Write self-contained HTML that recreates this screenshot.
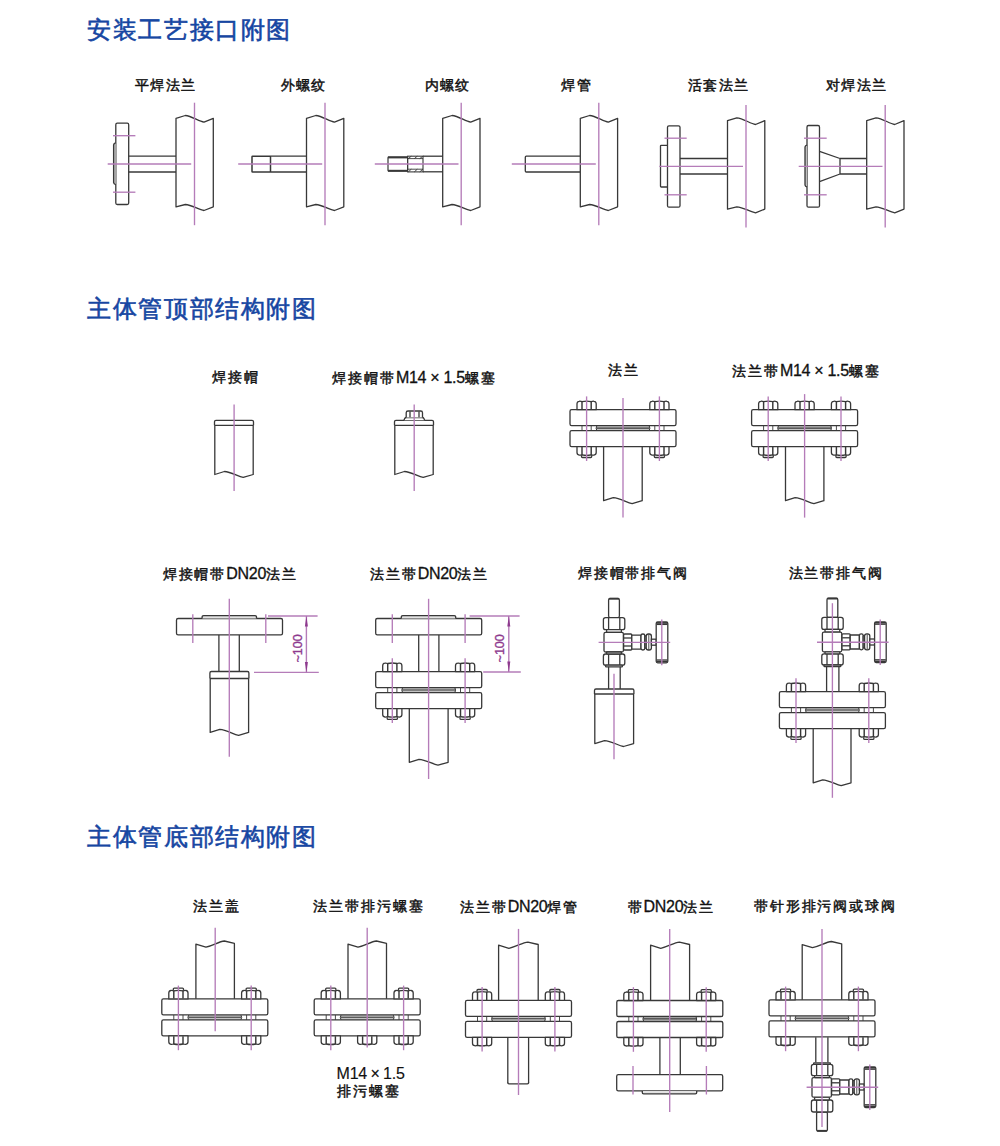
<!DOCTYPE html>
<html><head><meta charset="utf-8"><style>
html,body{margin:0;padding:0;background:#fff;width:1000px;height:1146px;overflow:hidden}
.t{position:absolute;font-family:"Liberation Sans",sans-serif;color:#1646a2;font-size:24px;letter-spacing:1.64px;font-weight:400;-webkit-text-stroke:0.6px #1646a2;white-space:nowrap;line-height:1}
.r{font-weight:400;font-size:16px;letter-spacing:-0.3px;-webkit-text-stroke:0.3px #111}
.s1{font-size:14px;letter-spacing:1.1px;padding-left:1.1px}
.sp{letter-spacing:1.9px;padding-left:1.9px}
.l{position:absolute;font-family:"Liberation Sans",sans-serif;color:#111;font-size:14px;font-weight:400;-webkit-text-stroke:0.45px #111;white-space:nowrap;line-height:1;transform:translateX(-50%)}
svg{position:absolute;left:0;top:0}
</style></head><body>
<div class="t" style="left:87px;top:17.5px">安装工艺接口附图</div>
<div class="t" style="left:87px;top:296.9px">主体管顶部结构附图</div>
<div class="t" style="left:87px;top:825px">主体管底部结构附图</div>
<div class="l s1" style="left:165px;top:78px">平焊法兰</div>
<div class="l s1" style="left:303px;top:78px">外螺纹</div>
<div class="l s1" style="left:447px;top:78px">内螺纹</div>
<div class="l s1" style="left:576px;top:78px">焊管</div>
<div class="l s1" style="left:718px;top:78px">活套法兰</div>
<div class="l s1" style="left:856px;top:78px">对焊法兰</div>
<div class="l sp" style="left:235px;top:370px">焊接帽</div>
<div class="l sp" style="left:413.5px;top:370px">焊接帽带<span class="r">M14 × 1.5</span>螺塞</div>
<div class="l sp" style="left:623px;top:362.5px">法兰</div>
<div class="l sp" style="left:805.5px;top:362.5px">法兰带<span class="r">M14 × 1.5</span>螺塞</div>
<div class="l sp" style="left:229.3px;top:566px">焊接帽带<span class="r">DN20</span>法兰</div>
<div class="l sp" style="left:428.6px;top:566px">法兰带<span class="r">DN20</span>法兰</div>
<div class="l sp" style="left:632.5px;top:566px">焊接帽带排气阀</div>
<div class="l sp" style="left:835.3px;top:566px">法兰带排气阀</div>
<div class="l sp" style="left:216px;top:898.5px">法兰盖</div>
<div class="l sp" style="left:368px;top:898.5px">法兰带排污螺塞</div>
<div class="l sp" style="left:518.7px;top:898.5px">法兰带<span class="r">DN20</span>焊管</div>
<div class="l sp" style="left:670.4px;top:898.5px">带<span class="r">DN20</span>法兰</div>
<div class="l sp" style="left:824.5px;top:898.5px">带针形排污阀或球阀</div>
<div class="l" style="left:336.5px;top:1066.3px;transform:none;font-weight:400"><span class="r" style="-webkit-text-stroke:0.15px #111;letter-spacing:-0.2px;word-spacing:-0.8px">M14 × 1.5</span></div>
<div class="l" style="left:337px;top:1083.5px;transform:none;letter-spacing:2.1px">排污螺塞</div>
<svg width="1000" height="1146" viewBox="0 0 1000 1146">
<path d="M176,118.3 L185.3,115.5 C191.5,116 198.5,121.1 204,122.2 L213.3,118.3 L213.3,206.8 L204,210.5 C198.5,209.4 191.5,204.8 185.3,204.5 L176,206.8 Z" fill="none" stroke="#383838" stroke-width="1.3" stroke-linejoin="round"/>
<line x1="194.5" y1="102.7" x2="194.5" y2="225.2" stroke="#b57cb9" stroke-width="1.35"/>
<rect x="115.8" y="123.2" width="12.9" height="81.3" rx="1.5" fill="none" stroke="#383838" stroke-width="1.3"/>
<path d="M115.8,142.7 L114.2,143.6 L113.6,145 L113.6,182.4 L114.2,183.8 L115.8,184.7" fill="#bdbdbd" stroke="#383838" stroke-width="1.3" stroke-linejoin="round"/>
<line x1="128.7" y1="156.2" x2="176" y2="156.2" stroke="#383838" stroke-width="1.3"/>
<line x1="128.7" y1="172" x2="176" y2="172" stroke="#383838" stroke-width="1.3"/>
<line x1="107.7" y1="164" x2="191.2" y2="164" stroke="#b57cb9" stroke-width="1.35"/>
<line x1="113" y1="135.7" x2="135.4" y2="135.7" stroke="#b57cb9" stroke-width="1.35"/>
<line x1="113" y1="192.2" x2="135.4" y2="192.2" stroke="#b57cb9" stroke-width="1.35"/>
<path d="M306.5,118.3 L315.8,115.5 C322,116 329,121.1 334.5,122.2 L343.8,118.3 L343.8,206.8 L334.5,210.5 C329,209.4 322,204.8 315.8,204.5 L306.5,206.8 Z" fill="none" stroke="#383838" stroke-width="1.3" stroke-linejoin="round"/>
<line x1="325" y1="102.7" x2="325" y2="225.2" stroke="#b57cb9" stroke-width="1.35"/>
<line x1="270.5" y1="156.2" x2="306.5" y2="156.2" stroke="#383838" stroke-width="1.3"/>
<line x1="270.5" y1="172" x2="306.5" y2="172" stroke="#383838" stroke-width="1.3"/>
<rect x="252" y="156.2" width="18.5" height="15.8" rx="0.6" fill="none" stroke="#383838" stroke-width="1.5"/>
<line x1="238.2" y1="164" x2="322.2" y2="164" stroke="#b57cb9" stroke-width="1.35"/>
<path d="M442.7,118.3 L452,115.5 C458.2,116 465.2,121.1 470.7,122.2 L480,118.3 L480,206.8 L470.7,210.5 C465.2,209.4 458.2,204.8 452,204.5 L442.7,206.8 Z" fill="none" stroke="#383838" stroke-width="1.3" stroke-linejoin="round"/>
<line x1="461.2" y1="102.7" x2="461.2" y2="225.2" stroke="#b57cb9" stroke-width="1.35"/>
<line x1="423" y1="156.2" x2="443" y2="156.2" stroke="#383838" stroke-width="1.3"/>
<line x1="423" y1="171.8" x2="443" y2="171.8" stroke="#383838" stroke-width="1.3"/>
<rect x="388" y="157.2" width="19.6" height="13.7" rx="0.5" fill="none" stroke="#383838" stroke-width="1.2"/>
<line x1="388" y1="157.4" x2="407.6" y2="157.4" stroke="#383838" stroke-width="2.0"/>
<line x1="388" y1="170.8" x2="407.6" y2="170.8" stroke="#383838" stroke-width="2.0"/>
<rect x="407.6" y="156.2" width="15.4" height="15.7" rx="0" fill="none" stroke="#383838" stroke-width="1.1"/>
<line x1="407.6" y1="158.6" x2="423" y2="158.6" stroke="#383838" stroke-width="0.9"/>
<line x1="407.6" y1="169.2" x2="423" y2="169.2" stroke="#383838" stroke-width="0.9"/>
<line x1="408.3" y1="158.6" x2="411.3" y2="156.2" stroke="#383838" stroke-width="0.9"/>
<line x1="408.3" y1="171.9" x2="411.3" y2="169.2" stroke="#383838" stroke-width="0.9"/>
<line x1="414.3" y1="158.6" x2="417.3" y2="156.2" stroke="#383838" stroke-width="0.9"/>
<line x1="414.3" y1="171.9" x2="417.3" y2="169.2" stroke="#383838" stroke-width="0.9"/>
<line x1="419.8" y1="158.6" x2="422.8" y2="156.2" stroke="#383838" stroke-width="0.9"/>
<line x1="419.8" y1="171.9" x2="422.8" y2="169.2" stroke="#383838" stroke-width="0.9"/>
<line x1="374.8" y1="164" x2="458.5" y2="164" stroke="#b57cb9" stroke-width="1.35"/>
<path d="M580.3,118.3 L589.6,115.5 C595.8,116 602.8,121.1 608.3,122.2 L617.6,118.3 L617.6,206.8 L608.3,210.5 C602.8,209.4 595.8,204.8 589.6,204.5 L580.3,206.8 Z" fill="none" stroke="#383838" stroke-width="1.3" stroke-linejoin="round"/>
<line x1="598.8" y1="102.7" x2="598.8" y2="225.2" stroke="#b57cb9" stroke-width="1.35"/>
<path d="M580,156.2 L526.3,156.2 Q525.3,156.2 525.3,157.2 L525.3,171 Q525.3,172 526.3,172 L580,172" fill="none" stroke="#383838" stroke-width="1.3" stroke-linejoin="round"/>
<line x1="511.8" y1="164" x2="595.8" y2="164" stroke="#b57cb9" stroke-width="1.35"/>
<path d="M727.5,120.6 L736.8,117.8 C743,118.3 750,123.4 755.5,124.5 L764.8,120.6 L764.8,209.1 L755.5,212.8 C750,211.7 743,207.1 736.8,206.8 L727.5,209.1 Z" fill="none" stroke="#383838" stroke-width="1.3" stroke-linejoin="round"/>
<line x1="746" y1="105" x2="746" y2="227.5" stroke="#b57cb9" stroke-width="1.35"/>
<rect x="667.5" y="125.8" width="12.5" height="81.4" rx="1.5" fill="none" stroke="#383838" stroke-width="1.3"/>
<path d="M667.5,145.3 L661.3,145.3 Q660.5,145.3 660.5,146.1 L660.5,186.2 Q660.5,187 661.3,187 L667.5,187" fill="none" stroke="#383838" stroke-width="1.3" stroke-linejoin="round"/>
<line x1="680" y1="158.5" x2="727.5" y2="158.5" stroke="#383838" stroke-width="1.3"/>
<line x1="680" y1="174" x2="727.5" y2="174" stroke="#383838" stroke-width="1.3"/>
<line x1="659.3" y1="166.3" x2="743" y2="166.3" stroke="#b57cb9" stroke-width="1.35"/>
<line x1="664.5" y1="138.2" x2="686.7" y2="138.2" stroke="#b57cb9" stroke-width="1.35"/>
<line x1="664.5" y1="194.8" x2="686.7" y2="194.8" stroke="#b57cb9" stroke-width="1.35"/>
<path d="M866.7,120.6 L876,117.8 C882.2,118.3 889.2,123.4 894.7,124.5 L904,120.6 L904,209.1 L894.7,212.8 C889.2,211.7 882.2,207.1 876,206.8 L866.7,209.1 Z" fill="none" stroke="#383838" stroke-width="1.3" stroke-linejoin="round"/>
<line x1="885.2" y1="105" x2="885.2" y2="227.5" stroke="#b57cb9" stroke-width="1.35"/>
<rect x="807" y="125.5" width="12.5" height="81.7" rx="1.5" fill="none" stroke="#383838" stroke-width="1.3"/>
<path d="M807,145 L805.6,145.8 L805,147 L805,185 L805.6,186.2 L807,187" fill="#bdbdbd" stroke="#383838" stroke-width="1.3" stroke-linejoin="round"/>
<path d="M819.5,151.3 L840,158.5 L866.8,158.5 M819.5,181.7 L840,174 L866.8,174 M840,158.5 L840,174" fill="none" stroke="#383838" stroke-width="1.3" stroke-linejoin="round"/>
<line x1="798.7" y1="166.3" x2="882.5" y2="166.3" stroke="#b57cb9" stroke-width="1.35"/>
<line x1="804" y1="138.2" x2="826.7" y2="138.2" stroke="#b57cb9" stroke-width="1.35"/>
<line x1="804" y1="194.8" x2="826.7" y2="194.8" stroke="#b57cb9" stroke-width="1.35"/>
<path d="M214.5,425.3 L214.5,421.8 Q214.5,420.3 216,420.3 L252,420.3 Q253.5,420.3 253.5,421.8 L253.5,425.3" fill="none" stroke="#383838" stroke-width="1.3" stroke-linejoin="round"/>
<line x1="214.5" y1="425.3" x2="253.5" y2="425.3" stroke="#383838" stroke-width="1.3"/>
<path d="M214.8,425.3 L214.8,474.5 L224.4,471.5 C230.93,471.9 237.84,476.3 243.22,477.4 L253.2,474.5 L253.2,425.3" fill="none" stroke="#383838" stroke-width="1.3" stroke-linejoin="round"/>
<line x1="234.1" y1="404.5" x2="234.1" y2="491" stroke="#b57cb9" stroke-width="1.35"/>
<path d="M394.5,425.3 L394.5,421.8 Q394.5,420.3 396,420.3 L432,420.3 Q433.5,420.3 433.5,421.8 L433.5,425.3" fill="none" stroke="#383838" stroke-width="1.3" stroke-linejoin="round"/>
<line x1="394.5" y1="425.3" x2="433.5" y2="425.3" stroke="#383838" stroke-width="1.3"/>
<path d="M394.8,425.3 L394.8,474.5 L404.4,471.5 C410.93,471.9 417.84,476.3 423.22,477.4 L433.2,474.5 L433.2,425.3" fill="none" stroke="#383838" stroke-width="1.3" stroke-linejoin="round"/>
<path d="M404,420.3 L404.6,418.6 Q405.2,417.5 406.4,417.5 L422.2,417.5 Q423.4,417.5 424,418.6 L424.6,420.3" fill="#fff" stroke="#383838" stroke-width="1.3" stroke-linejoin="round"/>
<path d="M406.2,417.5 L406.2,412.8 Q406.2,411 408,411 L420.7,411 Q422.5,411 422.5,412.8 L422.5,417.5" fill="#fff" stroke="#383838" stroke-width="1.3" stroke-linejoin="round"/>
<line x1="410" y1="411.4" x2="410" y2="417.2" stroke="#383838" stroke-width="1.3"/>
<line x1="419" y1="411.4" x2="419" y2="417.2" stroke="#383838" stroke-width="1.3"/>
<line x1="414.2" y1="404.5" x2="414.2" y2="491" stroke="#b57cb9" stroke-width="1.35"/>
<path d="M603.6,446.8 L603.6,500.7 L613.25,497.7 C619.81,498.1 626.76,502.5 632.16,503.6 L642.2,500.7 L642.2,446.8" fill="none" stroke="#383838" stroke-width="1.3" stroke-linejoin="round"/>
<rect x="596.2" y="425.7" width="53.6" height="5" fill="#c4c4c4"/>
<line x1="596.6" y1="428.1" x2="649.4" y2="428.1" stroke="#383838" stroke-width="1.1"/>
<path d="M596.8,426 Q595.4,428.2 596.8,430.4 M649.2,426 Q650.6,428.2 649.2,430.4" fill="none" stroke="#383838" stroke-width="1.0" stroke-linejoin="round"/>
<line x1="582" y1="425.7" x2="582" y2="430.7" stroke="#383838" stroke-width="0.9"/>
<line x1="591.2" y1="425.7" x2="591.2" y2="430.7" stroke="#383838" stroke-width="0.9"/>
<line x1="654.8" y1="425.7" x2="654.8" y2="430.7" stroke="#383838" stroke-width="0.9"/>
<line x1="664" y1="425.7" x2="664" y2="430.7" stroke="#383838" stroke-width="0.9"/>
<rect x="570" y="409.7" width="106" height="16" rx="1.6" fill="#fff" stroke="#383838" stroke-width="1.3"/>
<rect x="570" y="430.7" width="106" height="16" rx="1.6" fill="#fff" stroke="#383838" stroke-width="1.3"/>
<path d="M577,409.7 L577,403.8 Q577,401.6 579.2,401.3 Q580,401 582,401.6 Q586.6,400.6 591.2,401.6 Q593.2,401 594,401.3 Q596.2,401.6 596.2,403.8 L596.2,409.7 Z" fill="#fff" stroke="#383838" stroke-width="1.3" stroke-linejoin="round"/>
<line x1="582" y1="401.4" x2="582" y2="409.4" stroke="#383838" stroke-width="1.45"/>
<line x1="591.2" y1="401.4" x2="591.2" y2="409.4" stroke="#383838" stroke-width="1.45"/>
<path d="M577,446.7 L577,452.6 Q577,454.8 579.2,455.1 Q580,455.4 582,454.8 Q586.6,455.8 591.2,454.8 Q593.2,455.4 594,455.1 Q596.2,454.8 596.2,452.6 L596.2,446.7 Z" fill="#fff" stroke="#383838" stroke-width="1.3" stroke-linejoin="round"/>
<line x1="582" y1="447" x2="582" y2="455" stroke="#383838" stroke-width="1.45"/>
<line x1="591.2" y1="447" x2="591.2" y2="455" stroke="#383838" stroke-width="1.45"/>
<path d="M581.5,455.3 L581.5,456.5 Q581.5,457.5 582.5,457.5 L590.7,457.5 Q591.7,457.5 591.7,456.5 L591.7,455.3" fill="none" stroke="#383838" stroke-width="1.3" stroke-linejoin="round"/>
<path d="M649.8,409.7 L649.8,403.8 Q649.8,401.6 652,401.3 Q652.8,401 654.8,401.6 Q659.4,400.6 664,401.6 Q666,401 666.8,401.3 Q669,401.6 669,403.8 L669,409.7 Z" fill="#fff" stroke="#383838" stroke-width="1.3" stroke-linejoin="round"/>
<line x1="654.8" y1="401.4" x2="654.8" y2="409.4" stroke="#383838" stroke-width="1.45"/>
<line x1="664" y1="401.4" x2="664" y2="409.4" stroke="#383838" stroke-width="1.45"/>
<path d="M649.8,446.7 L649.8,452.6 Q649.8,454.8 652,455.1 Q652.8,455.4 654.8,454.8 Q659.4,455.8 664,454.8 Q666,455.4 666.8,455.1 Q669,454.8 669,452.6 L669,446.7 Z" fill="#fff" stroke="#383838" stroke-width="1.3" stroke-linejoin="round"/>
<line x1="654.8" y1="447" x2="654.8" y2="455" stroke="#383838" stroke-width="1.45"/>
<line x1="664" y1="447" x2="664" y2="455" stroke="#383838" stroke-width="1.45"/>
<path d="M654.3,455.3 L654.3,456.5 Q654.3,457.5 655.3,457.5 L663.5,457.5 Q664.5,457.5 664.5,456.5 L664.5,455.3" fill="none" stroke="#383838" stroke-width="1.3" stroke-linejoin="round"/>
<line x1="586.6" y1="396.4" x2="586.6" y2="461" stroke="#b57cb9" stroke-width="1.35"/>
<line x1="659.4" y1="396.4" x2="659.4" y2="461" stroke="#b57cb9" stroke-width="1.35"/>
<line x1="623" y1="398" x2="623" y2="517.6" stroke="#b57cb9" stroke-width="1.35"/>
<path d="M785.5,446.8 L785.5,500.7 L795.1,497.7 C801.63,498.1 808.54,502.5 813.92,503.6 L823.9,500.7 L823.9,446.8" fill="none" stroke="#383838" stroke-width="1.3" stroke-linejoin="round"/>
<rect x="777.8" y="425.7" width="53.6" height="5" fill="#c4c4c4"/>
<line x1="778.2" y1="428.1" x2="831" y2="428.1" stroke="#383838" stroke-width="1.1"/>
<path d="M778.4,426 Q777,428.2 778.4,430.4 M830.8,426 Q832.2,428.2 830.8,430.4" fill="none" stroke="#383838" stroke-width="1.0" stroke-linejoin="round"/>
<line x1="763.6" y1="425.7" x2="763.6" y2="430.7" stroke="#383838" stroke-width="0.9"/>
<line x1="772.8" y1="425.7" x2="772.8" y2="430.7" stroke="#383838" stroke-width="0.9"/>
<line x1="836.4" y1="425.7" x2="836.4" y2="430.7" stroke="#383838" stroke-width="0.9"/>
<line x1="845.6" y1="425.7" x2="845.6" y2="430.7" stroke="#383838" stroke-width="0.9"/>
<rect x="751.6" y="409.7" width="106" height="16" rx="1.6" fill="#fff" stroke="#383838" stroke-width="1.3"/>
<rect x="751.6" y="430.7" width="106" height="16" rx="1.6" fill="#fff" stroke="#383838" stroke-width="1.3"/>
<path d="M758.6,409.7 L758.6,403.8 Q758.6,401.6 760.8,401.3 Q761.6,401 763.6,401.6 Q768.2,400.6 772.8,401.6 Q774.8,401 775.6,401.3 Q777.8,401.6 777.8,403.8 L777.8,409.7 Z" fill="#fff" stroke="#383838" stroke-width="1.3" stroke-linejoin="round"/>
<line x1="763.6" y1="401.4" x2="763.6" y2="409.4" stroke="#383838" stroke-width="1.45"/>
<line x1="772.8" y1="401.4" x2="772.8" y2="409.4" stroke="#383838" stroke-width="1.45"/>
<path d="M758.6,446.7 L758.6,452.6 Q758.6,454.8 760.8,455.1 Q761.6,455.4 763.6,454.8 Q768.2,455.8 772.8,454.8 Q774.8,455.4 775.6,455.1 Q777.8,454.8 777.8,452.6 L777.8,446.7 Z" fill="#fff" stroke="#383838" stroke-width="1.3" stroke-linejoin="round"/>
<line x1="763.6" y1="447" x2="763.6" y2="455" stroke="#383838" stroke-width="1.45"/>
<line x1="772.8" y1="447" x2="772.8" y2="455" stroke="#383838" stroke-width="1.45"/>
<path d="M763.1,455.3 L763.1,456.5 Q763.1,457.5 764.1,457.5 L772.3,457.5 Q773.3,457.5 773.3,456.5 L773.3,455.3" fill="none" stroke="#383838" stroke-width="1.3" stroke-linejoin="round"/>
<path d="M831.4,409.7 L831.4,403.8 Q831.4,401.6 833.6,401.3 Q834.4,401 836.4,401.6 Q841,400.6 845.6,401.6 Q847.6,401 848.4,401.3 Q850.6,401.6 850.6,403.8 L850.6,409.7 Z" fill="#fff" stroke="#383838" stroke-width="1.3" stroke-linejoin="round"/>
<line x1="836.4" y1="401.4" x2="836.4" y2="409.4" stroke="#383838" stroke-width="1.45"/>
<line x1="845.6" y1="401.4" x2="845.6" y2="409.4" stroke="#383838" stroke-width="1.45"/>
<path d="M831.4,446.7 L831.4,452.6 Q831.4,454.8 833.6,455.1 Q834.4,455.4 836.4,454.8 Q841,455.8 845.6,454.8 Q847.6,455.4 848.4,455.1 Q850.6,454.8 850.6,452.6 L850.6,446.7 Z" fill="#fff" stroke="#383838" stroke-width="1.3" stroke-linejoin="round"/>
<line x1="836.4" y1="447" x2="836.4" y2="455" stroke="#383838" stroke-width="1.45"/>
<line x1="845.6" y1="447" x2="845.6" y2="455" stroke="#383838" stroke-width="1.45"/>
<path d="M835.9,455.3 L835.9,456.5 Q835.9,457.5 836.9,457.5 L845.1,457.5 Q846.1,457.5 846.1,456.5 L846.1,455.3" fill="none" stroke="#383838" stroke-width="1.3" stroke-linejoin="round"/>
<path d="M795,409.7 L795,403.8 Q795,401.6 797.2,401.3 Q798,401 800,401.6 Q804.6,400.6 809.2,401.6 Q811.2,401 812,401.3 Q814.2,401.6 814.2,403.8 L814.2,409.7 Z" fill="#fff" stroke="#383838" stroke-width="1.3" stroke-linejoin="round"/>
<line x1="800" y1="401.4" x2="800" y2="409.4" stroke="#383838" stroke-width="1.45"/>
<line x1="809.2" y1="401.4" x2="809.2" y2="409.4" stroke="#383838" stroke-width="1.45"/>
<line x1="768.2" y1="396.4" x2="768.2" y2="461" stroke="#b57cb9" stroke-width="1.35"/>
<line x1="841" y1="396.4" x2="841" y2="461" stroke="#b57cb9" stroke-width="1.35"/>
<line x1="804.6" y1="394.1" x2="804.6" y2="517.6" stroke="#b57cb9" stroke-width="1.35"/>
<line x1="218.9" y1="634.8" x2="218.9" y2="671.6" stroke="#383838" stroke-width="1.3"/>
<line x1="239.3" y1="634.8" x2="239.3" y2="671.6" stroke="#383838" stroke-width="1.3"/>
<path d="M209.9,678.5 L209.9,673 Q209.9,671.5 211.4,671.5 L247.4,671.5 Q248.9,671.5 248.9,673 L248.9,678.5" fill="none" stroke="#383838" stroke-width="1.3" stroke-linejoin="round"/>
<line x1="209.9" y1="678.5" x2="248.9" y2="678.5" stroke="#383838" stroke-width="1.3"/>
<path d="M210.2,678.5 L210.2,732.4 L219.8,729.4 C226.33,729.8 233.24,734.2 238.62,735.3 L248.6,732.4 L248.6,678.5" fill="none" stroke="#383838" stroke-width="1.3" stroke-linejoin="round"/>
<rect x="176.5" y="618.5" width="106" height="16.3" rx="1.6" fill="#fff" stroke="#383838" stroke-width="1.3"/>
<path d="M202.1,618.5 L202.1,616.7 Q202.1,615.6 203.5,615.6 L255.1,615.6 Q256.5,615.6 256.5,616.7 L256.5,618.5" fill="#e2e2e2" stroke="#383838" stroke-width="1.3" stroke-linejoin="round"/>
<line x1="192.8" y1="614.3" x2="192.8" y2="643.1" stroke="#b57cb9" stroke-width="1.35"/>
<line x1="265.8" y1="614.3" x2="265.8" y2="643.1" stroke="#b57cb9" stroke-width="1.35"/>
<line x1="229.3" y1="598.8" x2="229.3" y2="756.8" stroke="#b57cb9" stroke-width="1.35"/>
<line x1="268" y1="616" x2="317.6" y2="616" stroke="#b57cb9" stroke-width="1.35"/>
<line x1="254" y1="672.4" x2="318.8" y2="672.4" stroke="#b57cb9" stroke-width="1.35"/>
<line x1="306.4" y1="616" x2="306.4" y2="672.4" stroke="#b57cb9" stroke-width="1.4"/>
<path d="M306.4,616 L304.9,626.4 L307.9,626.4 Z" fill="#8e3a8e"/>
<path d="M306.4,672.4 L304.9,662 L307.9,662 Z" fill="#8e3a8e"/>
<text x="0" y="0" transform="translate(302.4,648.5) rotate(-90)" text-anchor="middle" font-family="Liberation Sans, sans-serif" font-size="12.5" fill="#8e3a8e" stroke="#8e3a8e" stroke-width="0.35">~100</text>
<line x1="418.7" y1="634.8" x2="418.7" y2="671.6" stroke="#383838" stroke-width="1.3"/>
<line x1="438.9" y1="634.8" x2="438.9" y2="671.6" stroke="#383838" stroke-width="1.3"/>
<rect x="375.7" y="618.5" width="106" height="16.3" rx="1.6" fill="#fff" stroke="#383838" stroke-width="1.3"/>
<path d="M401.3,618.5 L401.3,616.7 Q401.3,615.6 402.7,615.6 L454.3,615.6 Q455.7,615.6 455.7,616.7 L455.7,618.5" fill="#e2e2e2" stroke="#383838" stroke-width="1.3" stroke-linejoin="round"/>
<line x1="392.3" y1="614.3" x2="392.3" y2="643.1" stroke="#b57cb9" stroke-width="1.35"/>
<line x1="465.1" y1="614.3" x2="465.1" y2="643.1" stroke="#b57cb9" stroke-width="1.35"/>
<path d="M409.3,708.2 L409.3,762.3 L419,759.3 C425.6,759.7 432.58,764.1 438.01,765.2 L448.1,762.3 L448.1,708.2" fill="none" stroke="#383838" stroke-width="1.3" stroke-linejoin="round"/>
<rect x="401.9" y="687.6" width="53.6" height="5" fill="#c4c4c4"/>
<line x1="402.3" y1="690" x2="455.1" y2="690" stroke="#383838" stroke-width="1.1"/>
<path d="M402.5,687.9 Q401.1,690.1 402.5,692.3 M454.9,687.9 Q456.3,690.1 454.9,692.3" fill="none" stroke="#383838" stroke-width="1.0" stroke-linejoin="round"/>
<line x1="387.7" y1="687.6" x2="387.7" y2="692.6" stroke="#383838" stroke-width="0.9"/>
<line x1="396.9" y1="687.6" x2="396.9" y2="692.6" stroke="#383838" stroke-width="0.9"/>
<line x1="460.5" y1="687.6" x2="460.5" y2="692.6" stroke="#383838" stroke-width="0.9"/>
<line x1="469.7" y1="687.6" x2="469.7" y2="692.6" stroke="#383838" stroke-width="0.9"/>
<rect x="375.7" y="671.6" width="106" height="16" rx="1.6" fill="#fff" stroke="#383838" stroke-width="1.3"/>
<rect x="375.7" y="692.6" width="106" height="16" rx="1.6" fill="#fff" stroke="#383838" stroke-width="1.3"/>
<path d="M382.7,671.6 L382.7,665.7 Q382.7,663.5 384.9,663.2 Q385.7,662.9 387.7,663.5 Q392.3,662.5 396.9,663.5 Q398.9,662.9 399.7,663.2 Q401.9,663.5 401.9,665.7 L401.9,671.6 Z" fill="#fff" stroke="#383838" stroke-width="1.3" stroke-linejoin="round"/>
<line x1="387.7" y1="663.3" x2="387.7" y2="671.3" stroke="#383838" stroke-width="1.45"/>
<line x1="396.9" y1="663.3" x2="396.9" y2="671.3" stroke="#383838" stroke-width="1.45"/>
<path d="M382.7,708.6 L382.7,714.5 Q382.7,716.7 384.9,717 Q385.7,717.3 387.7,716.7 Q392.3,717.7 396.9,716.7 Q398.9,717.3 399.7,717 Q401.9,716.7 401.9,714.5 L401.9,708.6 Z" fill="#fff" stroke="#383838" stroke-width="1.3" stroke-linejoin="round"/>
<line x1="387.7" y1="708.9" x2="387.7" y2="716.9" stroke="#383838" stroke-width="1.45"/>
<line x1="396.9" y1="708.9" x2="396.9" y2="716.9" stroke="#383838" stroke-width="1.45"/>
<path d="M387.2,717.2 L387.2,718.4 Q387.2,719.4 388.2,719.4 L396.4,719.4 Q397.4,719.4 397.4,718.4 L397.4,717.2" fill="none" stroke="#383838" stroke-width="1.3" stroke-linejoin="round"/>
<path d="M455.5,671.6 L455.5,665.7 Q455.5,663.5 457.7,663.2 Q458.5,662.9 460.5,663.5 Q465.1,662.5 469.7,663.5 Q471.7,662.9 472.5,663.2 Q474.7,663.5 474.7,665.7 L474.7,671.6 Z" fill="#fff" stroke="#383838" stroke-width="1.3" stroke-linejoin="round"/>
<line x1="460.5" y1="663.3" x2="460.5" y2="671.3" stroke="#383838" stroke-width="1.45"/>
<line x1="469.7" y1="663.3" x2="469.7" y2="671.3" stroke="#383838" stroke-width="1.45"/>
<path d="M455.5,708.6 L455.5,714.5 Q455.5,716.7 457.7,717 Q458.5,717.3 460.5,716.7 Q465.1,717.7 469.7,716.7 Q471.7,717.3 472.5,717 Q474.7,716.7 474.7,714.5 L474.7,708.6 Z" fill="#fff" stroke="#383838" stroke-width="1.3" stroke-linejoin="round"/>
<line x1="460.5" y1="708.9" x2="460.5" y2="716.9" stroke="#383838" stroke-width="1.45"/>
<line x1="469.7" y1="708.9" x2="469.7" y2="716.9" stroke="#383838" stroke-width="1.45"/>
<path d="M460,717.2 L460,718.4 Q460,719.4 461,719.4 L469.2,719.4 Q470.2,719.4 470.2,718.4 L470.2,717.2" fill="none" stroke="#383838" stroke-width="1.3" stroke-linejoin="round"/>
<line x1="392.3" y1="658.3" x2="392.3" y2="722.9" stroke="#b57cb9" stroke-width="1.35"/>
<line x1="465.1" y1="658.3" x2="465.1" y2="722.9" stroke="#b57cb9" stroke-width="1.35"/>
<line x1="428.6" y1="598.8" x2="428.6" y2="779" stroke="#b57cb9" stroke-width="1.35"/>
<line x1="469.6" y1="616" x2="519.6" y2="616" stroke="#b57cb9" stroke-width="1.35"/>
<line x1="483.2" y1="672" x2="520.8" y2="672" stroke="#b57cb9" stroke-width="1.35"/>
<line x1="508.8" y1="616" x2="508.8" y2="672" stroke="#b57cb9" stroke-width="1.4"/>
<path d="M508.8,616 L507.3,626.4 L510.3,626.4 Z" fill="#8e3a8e"/>
<path d="M508.8,672 L507.3,661.6 L510.3,661.6 Z" fill="#8e3a8e"/>
<text x="0" y="0" transform="translate(504.4,648.3) rotate(-90)" text-anchor="middle" font-family="Liberation Sans, sans-serif" font-size="12.5" fill="#8e3a8e" stroke="#8e3a8e" stroke-width="0.35">~100</text>
<line x1="608.6" y1="666" x2="608.6" y2="689" stroke="#383838" stroke-width="1.3"/>
<line x1="620.2" y1="666" x2="620.2" y2="689" stroke="#383838" stroke-width="1.3"/>
<path d="M594.5,694 L594.5,690.5 Q594.5,689 596,689 L632.4,689 Q633.9,689 633.9,690.5 L633.9,694" fill="none" stroke="#383838" stroke-width="1.3" stroke-linejoin="round"/>
<line x1="594.5" y1="694" x2="633.9" y2="694" stroke="#383838" stroke-width="1.3"/>
<path d="M594.8,694 L594.8,743.6 L604.5,740.6 C611.1,741 618.08,745.4 623.51,746.5 L633.6,743.6 L633.6,694" fill="none" stroke="#383838" stroke-width="1.3" stroke-linejoin="round"/>
<rect x="608.6" y="598.4" width="10.8" height="19.2" rx="1.5" fill="#fff" stroke="#383838" stroke-width="1.3"/>
<line x1="609" y1="598.8" x2="619" y2="598.8" stroke="#383838" stroke-width="1.8"/>
<rect x="603.4" y="617.6" width="21.4" height="12" rx="2.2" fill="#fff" stroke="#383838" stroke-width="1.3"/>
<line x1="608.6" y1="617.9" x2="608.6" y2="629.3" stroke="#383838" stroke-width="1.3"/>
<line x1="619.8" y1="617.9" x2="619.8" y2="629.3" stroke="#383838" stroke-width="1.3"/>
<rect x="606.6" y="629.6" width="14.8" height="2.8" rx="0.5" fill="#fff" stroke="#383838" stroke-width="1.3"/>
<rect x="604" y="632.4" width="19.4" height="19.6" rx="1.5" fill="#fff" stroke="#383838" stroke-width="1.3"/>
<rect x="603.4" y="654" width="21.4" height="11.2" rx="2.2" fill="#fff" stroke="#383838" stroke-width="1.3"/>
<line x1="608.6" y1="654.3" x2="608.6" y2="664.9" stroke="#383838" stroke-width="1.3"/>
<line x1="619.8" y1="654.3" x2="619.8" y2="664.9" stroke="#383838" stroke-width="1.3"/>
<rect x="606.6" y="652" width="14.8" height="2" rx="0.5" fill="#fff" stroke="#383838" stroke-width="1.3"/>
<rect x="605.6" y="665.2" width="16.8" height="1.6" rx="0.6" fill="#fff" stroke="#383838" stroke-width="1.3"/>
<rect x="623.6" y="634" width="8.2" height="16" rx="1" fill="#fff" stroke="#383838" stroke-width="1.3"/>
<line x1="623.8" y1="638" x2="631.8" y2="638" stroke="#383838" stroke-width="1.3"/>
<line x1="623.8" y1="646" x2="631.8" y2="646" stroke="#383838" stroke-width="1.3"/>
<rect x="631.8" y="635.2" width="9.2" height="14" rx="0.5" fill="#fff" stroke="#383838" stroke-width="1.3"/>
<rect x="641" y="634" width="3.8" height="16" rx="1.8" fill="#fff" stroke="#383838" stroke-width="1.3"/>
<rect x="644.8" y="635.9" width="1.6" height="12.2" rx="0.5" fill="#fff" stroke="#383838" stroke-width="1.3"/>
<rect x="646.2" y="634" width="5.2" height="16" rx="2.2" fill="#fff" stroke="#383838" stroke-width="1.3"/>
<line x1="648.8" y1="634.4" x2="648.8" y2="649.8" stroke="#383838" stroke-width="0.9"/>
<rect x="651.4" y="639.2" width="4.8" height="6" rx="0" fill="#fff" stroke="#383838" stroke-width="1.3"/>
<rect x="656.2" y="622" width="11.6" height="40.8" rx="1.5" fill="#fff" stroke="#383838" stroke-width="1.3"/>
<line x1="656.6" y1="624.4" x2="667.4" y2="624.4" stroke="#383838" stroke-width="1.3"/>
<line x1="656.6" y1="660" x2="667.4" y2="660" stroke="#383838" stroke-width="1.3"/>
<line x1="656.6" y1="623" x2="667.4" y2="623" stroke="#383838" stroke-width="1.6"/>
<line x1="656.6" y1="661.6" x2="667.4" y2="661.6" stroke="#383838" stroke-width="1.6"/>
<line x1="598.6" y1="642.4" x2="670.2" y2="642.4" stroke="#b57cb9" stroke-width="1.35"/>
<line x1="661.8" y1="619.6" x2="661.8" y2="665.2" stroke="#b57cb9" stroke-width="1.35"/>
<line x1="614" y1="673.7" x2="614" y2="759.3" stroke="#b57cb9" stroke-width="1.35"/>
<line x1="826.6" y1="665.6" x2="826.6" y2="691.6" stroke="#383838" stroke-width="1.3"/>
<line x1="838.9" y1="665.6" x2="838.9" y2="691.6" stroke="#383838" stroke-width="1.3"/>
<path d="M813.2,728.6 L813.2,782.8 L822.65,779.8 C829.08,780.2 835.88,784.6 841.17,785.7 L851,782.8 L851,728.6" fill="none" stroke="#383838" stroke-width="1.3" stroke-linejoin="round"/>
<rect x="805.6" y="707.6" width="53.6" height="5" fill="#c4c4c4"/>
<line x1="806" y1="710" x2="858.8" y2="710" stroke="#383838" stroke-width="1.1"/>
<path d="M806.2,707.9 Q804.8,710.1 806.2,712.3 M858.6,707.9 Q860,710.1 858.6,712.3" fill="none" stroke="#383838" stroke-width="1.0" stroke-linejoin="round"/>
<line x1="791.4" y1="707.6" x2="791.4" y2="712.6" stroke="#383838" stroke-width="0.9"/>
<line x1="800.6" y1="707.6" x2="800.6" y2="712.6" stroke="#383838" stroke-width="0.9"/>
<line x1="864.2" y1="707.6" x2="864.2" y2="712.6" stroke="#383838" stroke-width="0.9"/>
<line x1="873.4" y1="707.6" x2="873.4" y2="712.6" stroke="#383838" stroke-width="0.9"/>
<rect x="779.4" y="691.6" width="106" height="16" rx="1.6" fill="#fff" stroke="#383838" stroke-width="1.3"/>
<rect x="779.4" y="712.6" width="106" height="16" rx="1.6" fill="#fff" stroke="#383838" stroke-width="1.3"/>
<path d="M786.4,691.6 L786.4,685.7 Q786.4,683.5 788.6,683.2 Q789.4,682.9 791.4,683.5 Q796,682.5 800.6,683.5 Q802.6,682.9 803.4,683.2 Q805.6,683.5 805.6,685.7 L805.6,691.6 Z" fill="#fff" stroke="#383838" stroke-width="1.3" stroke-linejoin="round"/>
<line x1="791.4" y1="683.3" x2="791.4" y2="691.3" stroke="#383838" stroke-width="1.45"/>
<line x1="800.6" y1="683.3" x2="800.6" y2="691.3" stroke="#383838" stroke-width="1.45"/>
<path d="M786.4,728.6 L786.4,734.5 Q786.4,736.7 788.6,737 Q789.4,737.3 791.4,736.7 Q796,737.7 800.6,736.7 Q802.6,737.3 803.4,737 Q805.6,736.7 805.6,734.5 L805.6,728.6 Z" fill="#fff" stroke="#383838" stroke-width="1.3" stroke-linejoin="round"/>
<line x1="791.4" y1="728.9" x2="791.4" y2="736.9" stroke="#383838" stroke-width="1.45"/>
<line x1="800.6" y1="728.9" x2="800.6" y2="736.9" stroke="#383838" stroke-width="1.45"/>
<path d="M790.9,737.2 L790.9,738.4 Q790.9,739.4 791.9,739.4 L800.1,739.4 Q801.1,739.4 801.1,738.4 L801.1,737.2" fill="none" stroke="#383838" stroke-width="1.3" stroke-linejoin="round"/>
<path d="M859.2,691.6 L859.2,685.7 Q859.2,683.5 861.4,683.2 Q862.2,682.9 864.2,683.5 Q868.8,682.5 873.4,683.5 Q875.4,682.9 876.2,683.2 Q878.4,683.5 878.4,685.7 L878.4,691.6 Z" fill="#fff" stroke="#383838" stroke-width="1.3" stroke-linejoin="round"/>
<line x1="864.2" y1="683.3" x2="864.2" y2="691.3" stroke="#383838" stroke-width="1.45"/>
<line x1="873.4" y1="683.3" x2="873.4" y2="691.3" stroke="#383838" stroke-width="1.45"/>
<path d="M859.2,728.6 L859.2,734.5 Q859.2,736.7 861.4,737 Q862.2,737.3 864.2,736.7 Q868.8,737.7 873.4,736.7 Q875.4,737.3 876.2,737 Q878.4,736.7 878.4,734.5 L878.4,728.6 Z" fill="#fff" stroke="#383838" stroke-width="1.3" stroke-linejoin="round"/>
<line x1="864.2" y1="728.9" x2="864.2" y2="736.9" stroke="#383838" stroke-width="1.45"/>
<line x1="873.4" y1="728.9" x2="873.4" y2="736.9" stroke="#383838" stroke-width="1.45"/>
<path d="M863.7,737.2 L863.7,738.4 Q863.7,739.4 864.7,739.4 L872.9,739.4 Q873.9,739.4 873.9,738.4 L873.9,737.2" fill="none" stroke="#383838" stroke-width="1.3" stroke-linejoin="round"/>
<line x1="796" y1="678.3" x2="796" y2="742.9" stroke="#b57cb9" stroke-width="1.35"/>
<line x1="868.8" y1="678.3" x2="868.8" y2="742.9" stroke="#b57cb9" stroke-width="1.35"/>
<rect x="827" y="598.2" width="10.8" height="19.2" rx="1.5" fill="#fff" stroke="#383838" stroke-width="1.3"/>
<line x1="827.4" y1="598.6" x2="837.4" y2="598.6" stroke="#383838" stroke-width="1.8"/>
<rect x="821.8" y="617.4" width="21.4" height="12" rx="2.2" fill="#fff" stroke="#383838" stroke-width="1.3"/>
<line x1="827" y1="617.7" x2="827" y2="629.1" stroke="#383838" stroke-width="1.3"/>
<line x1="838.2" y1="617.7" x2="838.2" y2="629.1" stroke="#383838" stroke-width="1.3"/>
<rect x="825" y="629.4" width="14.8" height="2.8" rx="0.5" fill="#fff" stroke="#383838" stroke-width="1.3"/>
<rect x="822.4" y="632.2" width="19.4" height="19.6" rx="1.5" fill="#fff" stroke="#383838" stroke-width="1.3"/>
<rect x="821.8" y="653.8" width="21.4" height="11.2" rx="2.2" fill="#fff" stroke="#383838" stroke-width="1.3"/>
<line x1="827" y1="654.1" x2="827" y2="664.7" stroke="#383838" stroke-width="1.3"/>
<line x1="838.2" y1="654.1" x2="838.2" y2="664.7" stroke="#383838" stroke-width="1.3"/>
<rect x="825" y="651.8" width="14.8" height="2" rx="0.5" fill="#fff" stroke="#383838" stroke-width="1.3"/>
<rect x="824" y="665" width="16.8" height="1.6" rx="0.6" fill="#fff" stroke="#383838" stroke-width="1.3"/>
<rect x="842" y="633.8" width="8.2" height="16" rx="1" fill="#fff" stroke="#383838" stroke-width="1.3"/>
<line x1="842.2" y1="637.8" x2="850.2" y2="637.8" stroke="#383838" stroke-width="1.3"/>
<line x1="842.2" y1="645.8" x2="850.2" y2="645.8" stroke="#383838" stroke-width="1.3"/>
<rect x="850.2" y="635" width="9.2" height="14" rx="0.5" fill="#fff" stroke="#383838" stroke-width="1.3"/>
<rect x="859.4" y="633.8" width="3.8" height="16" rx="1.8" fill="#fff" stroke="#383838" stroke-width="1.3"/>
<rect x="863.2" y="635.7" width="1.6" height="12.2" rx="0.5" fill="#fff" stroke="#383838" stroke-width="1.3"/>
<rect x="864.6" y="633.8" width="5.2" height="16" rx="2.2" fill="#fff" stroke="#383838" stroke-width="1.3"/>
<line x1="867.2" y1="634.2" x2="867.2" y2="649.6" stroke="#383838" stroke-width="0.9"/>
<rect x="869.8" y="639" width="4.8" height="6" rx="0" fill="#fff" stroke="#383838" stroke-width="1.3"/>
<rect x="874.6" y="621.8" width="11.6" height="40.8" rx="1.5" fill="#fff" stroke="#383838" stroke-width="1.3"/>
<line x1="875" y1="624.2" x2="885.8" y2="624.2" stroke="#383838" stroke-width="1.3"/>
<line x1="875" y1="659.8" x2="885.8" y2="659.8" stroke="#383838" stroke-width="1.3"/>
<line x1="875" y1="622.8" x2="885.8" y2="622.8" stroke="#383838" stroke-width="1.6"/>
<line x1="875" y1="661.4" x2="885.8" y2="661.4" stroke="#383838" stroke-width="1.6"/>
<line x1="817" y1="642.2" x2="888.6" y2="642.2" stroke="#b57cb9" stroke-width="1.35"/>
<line x1="880.2" y1="619.4" x2="880.2" y2="665" stroke="#b57cb9" stroke-width="1.35"/>
<line x1="832.4" y1="603.2" x2="832.4" y2="797.8" stroke="#b57cb9" stroke-width="1.35"/>
<path d="M195.9,998.7 L195.9,944.1 L205.91,947.2 C213.22,945.6 219,941.5 224.39,941 L234.4,943.4 L234.4,998.7" fill="none" stroke="#383838" stroke-width="1.3" stroke-linejoin="round"/>
<rect x="188" y="1014.9" width="53.6" height="5" fill="#c4c4c4"/>
<line x1="188.4" y1="1017.3" x2="241.2" y2="1017.3" stroke="#383838" stroke-width="1.1"/>
<path d="M188.6,1015.2 Q187.2,1017.4 188.6,1019.6 M241,1015.2 Q242.4,1017.4 241,1019.6" fill="none" stroke="#383838" stroke-width="1.0" stroke-linejoin="round"/>
<line x1="173.8" y1="1014.9" x2="173.8" y2="1019.9" stroke="#383838" stroke-width="0.9"/>
<line x1="183" y1="1014.9" x2="183" y2="1019.9" stroke="#383838" stroke-width="0.9"/>
<line x1="246.6" y1="1014.9" x2="246.6" y2="1019.9" stroke="#383838" stroke-width="0.9"/>
<line x1="255.8" y1="1014.9" x2="255.8" y2="1019.9" stroke="#383838" stroke-width="0.9"/>
<rect x="161.8" y="998.9" width="106" height="16" rx="1.6" fill="#fff" stroke="#383838" stroke-width="1.3"/>
<rect x="161.8" y="1019.9" width="106" height="16" rx="1.6" fill="#fff" stroke="#383838" stroke-width="1.3"/>
<path d="M168.8,998.9 L168.8,993 Q168.8,990.8 171,990.5 Q171.8,990.2 173.8,990.8 Q178.4,989.8 183,990.8 Q185,990.2 185.8,990.5 Q188,990.8 188,993 L188,998.9 Z" fill="#fff" stroke="#383838" stroke-width="1.3" stroke-linejoin="round"/>
<line x1="173.8" y1="990.6" x2="173.8" y2="998.6" stroke="#383838" stroke-width="1.45"/>
<line x1="183" y1="990.6" x2="183" y2="998.6" stroke="#383838" stroke-width="1.45"/>
<path d="M168.8,1035.9 L168.8,1041.8 Q168.8,1044 171,1044.3 Q171.8,1044.6 173.8,1044 Q178.4,1045 183,1044 Q185,1044.6 185.8,1044.3 Q188,1044 188,1041.8 L188,1035.9 Z" fill="#fff" stroke="#383838" stroke-width="1.3" stroke-linejoin="round"/>
<line x1="173.8" y1="1036.2" x2="173.8" y2="1044.2" stroke="#383838" stroke-width="1.45"/>
<line x1="183" y1="1036.2" x2="183" y2="1044.2" stroke="#383838" stroke-width="1.45"/>
<path d="M173.3,990.3 L173.3,989.1 Q173.3,988.1 174.3,988.1 L182.5,988.1 Q183.5,988.1 183.5,989.1 L183.5,990.3" fill="none" stroke="#383838" stroke-width="1.3" stroke-linejoin="round"/>
<path d="M241.6,998.9 L241.6,993 Q241.6,990.8 243.8,990.5 Q244.6,990.2 246.6,990.8 Q251.2,989.8 255.8,990.8 Q257.8,990.2 258.6,990.5 Q260.8,990.8 260.8,993 L260.8,998.9 Z" fill="#fff" stroke="#383838" stroke-width="1.3" stroke-linejoin="round"/>
<line x1="246.6" y1="990.6" x2="246.6" y2="998.6" stroke="#383838" stroke-width="1.45"/>
<line x1="255.8" y1="990.6" x2="255.8" y2="998.6" stroke="#383838" stroke-width="1.45"/>
<path d="M241.6,1035.9 L241.6,1041.8 Q241.6,1044 243.8,1044.3 Q244.6,1044.6 246.6,1044 Q251.2,1045 255.8,1044 Q257.8,1044.6 258.6,1044.3 Q260.8,1044 260.8,1041.8 L260.8,1035.9 Z" fill="#fff" stroke="#383838" stroke-width="1.3" stroke-linejoin="round"/>
<line x1="246.6" y1="1036.2" x2="246.6" y2="1044.2" stroke="#383838" stroke-width="1.45"/>
<line x1="255.8" y1="1036.2" x2="255.8" y2="1044.2" stroke="#383838" stroke-width="1.45"/>
<path d="M246.1,990.3 L246.1,989.1 Q246.1,988.1 247.1,988.1 L255.3,988.1 Q256.3,988.1 256.3,989.1 L256.3,990.3" fill="none" stroke="#383838" stroke-width="1.3" stroke-linejoin="round"/>
<line x1="178.4" y1="985.6" x2="178.4" y2="1050.2" stroke="#b57cb9" stroke-width="1.35"/>
<line x1="251.2" y1="985.6" x2="251.2" y2="1050.2" stroke="#b57cb9" stroke-width="1.35"/>
<line x1="215.2" y1="927.7" x2="215.2" y2="1031.3" stroke="#b57cb9" stroke-width="1.35"/>
<path d="M348,998.7 L348,944.1 L358.01,947.2 C365.32,945.6 371.1,941.5 376.49,941 L386.5,943.4 L386.5,998.7" fill="none" stroke="#383838" stroke-width="1.3" stroke-linejoin="round"/>
<rect x="340.4" y="1014.9" width="53.6" height="5" fill="#c4c4c4"/>
<line x1="340.8" y1="1017.3" x2="393.6" y2="1017.3" stroke="#383838" stroke-width="1.1"/>
<path d="M341,1015.2 Q339.6,1017.4 341,1019.6 M393.4,1015.2 Q394.8,1017.4 393.4,1019.6" fill="none" stroke="#383838" stroke-width="1.0" stroke-linejoin="round"/>
<line x1="326.2" y1="1014.9" x2="326.2" y2="1019.9" stroke="#383838" stroke-width="0.9"/>
<line x1="335.4" y1="1014.9" x2="335.4" y2="1019.9" stroke="#383838" stroke-width="0.9"/>
<line x1="399" y1="1014.9" x2="399" y2="1019.9" stroke="#383838" stroke-width="0.9"/>
<line x1="408.2" y1="1014.9" x2="408.2" y2="1019.9" stroke="#383838" stroke-width="0.9"/>
<rect x="314.2" y="998.9" width="106" height="16" rx="1.6" fill="#fff" stroke="#383838" stroke-width="1.3"/>
<rect x="314.2" y="1019.9" width="106" height="16" rx="1.6" fill="#fff" stroke="#383838" stroke-width="1.3"/>
<path d="M321.2,998.9 L321.2,993 Q321.2,990.8 323.4,990.5 Q324.2,990.2 326.2,990.8 Q330.8,989.8 335.4,990.8 Q337.4,990.2 338.2,990.5 Q340.4,990.8 340.4,993 L340.4,998.9 Z" fill="#fff" stroke="#383838" stroke-width="1.3" stroke-linejoin="round"/>
<line x1="326.2" y1="990.6" x2="326.2" y2="998.6" stroke="#383838" stroke-width="1.45"/>
<line x1="335.4" y1="990.6" x2="335.4" y2="998.6" stroke="#383838" stroke-width="1.45"/>
<path d="M321.2,1035.9 L321.2,1041.8 Q321.2,1044 323.4,1044.3 Q324.2,1044.6 326.2,1044 Q330.8,1045 335.4,1044 Q337.4,1044.6 338.2,1044.3 Q340.4,1044 340.4,1041.8 L340.4,1035.9 Z" fill="#fff" stroke="#383838" stroke-width="1.3" stroke-linejoin="round"/>
<line x1="326.2" y1="1036.2" x2="326.2" y2="1044.2" stroke="#383838" stroke-width="1.45"/>
<line x1="335.4" y1="1036.2" x2="335.4" y2="1044.2" stroke="#383838" stroke-width="1.45"/>
<path d="M325.7,990.3 L325.7,989.1 Q325.7,988.1 326.7,988.1 L334.9,988.1 Q335.9,988.1 335.9,989.1 L335.9,990.3" fill="none" stroke="#383838" stroke-width="1.3" stroke-linejoin="round"/>
<path d="M394,998.9 L394,993 Q394,990.8 396.2,990.5 Q397,990.2 399,990.8 Q403.6,989.8 408.2,990.8 Q410.2,990.2 411,990.5 Q413.2,990.8 413.2,993 L413.2,998.9 Z" fill="#fff" stroke="#383838" stroke-width="1.3" stroke-linejoin="round"/>
<line x1="399" y1="990.6" x2="399" y2="998.6" stroke="#383838" stroke-width="1.45"/>
<line x1="408.2" y1="990.6" x2="408.2" y2="998.6" stroke="#383838" stroke-width="1.45"/>
<path d="M394,1035.9 L394,1041.8 Q394,1044 396.2,1044.3 Q397,1044.6 399,1044 Q403.6,1045 408.2,1044 Q410.2,1044.6 411,1044.3 Q413.2,1044 413.2,1041.8 L413.2,1035.9 Z" fill="#fff" stroke="#383838" stroke-width="1.3" stroke-linejoin="round"/>
<line x1="399" y1="1036.2" x2="399" y2="1044.2" stroke="#383838" stroke-width="1.45"/>
<line x1="408.2" y1="1036.2" x2="408.2" y2="1044.2" stroke="#383838" stroke-width="1.45"/>
<path d="M398.5,990.3 L398.5,989.1 Q398.5,988.1 399.5,988.1 L407.7,988.1 Q408.7,988.1 408.7,989.1 L408.7,990.3" fill="none" stroke="#383838" stroke-width="1.3" stroke-linejoin="round"/>
<path d="M357.6,1035.9 L357.6,1041.8 Q357.6,1044 359.8,1044.3 Q360.6,1044.6 362.6,1044 Q367.2,1045 371.8,1044 Q373.8,1044.6 374.6,1044.3 Q376.8,1044 376.8,1041.8 L376.8,1035.9 Z" fill="#fff" stroke="#383838" stroke-width="1.3" stroke-linejoin="round"/>
<line x1="362.6" y1="1036.2" x2="362.6" y2="1044.2" stroke="#383838" stroke-width="1.45"/>
<line x1="371.8" y1="1036.2" x2="371.8" y2="1044.2" stroke="#383838" stroke-width="1.45"/>
<line x1="330.8" y1="985.6" x2="330.8" y2="1050.2" stroke="#b57cb9" stroke-width="1.35"/>
<line x1="403.6" y1="985.6" x2="403.6" y2="1050.2" stroke="#b57cb9" stroke-width="1.35"/>
<line x1="367.2" y1="927.7" x2="367.2" y2="1047.4" stroke="#b57cb9" stroke-width="1.35"/>
<path d="M498.6,1000.1 L498.6,945.2 L508.9,948.3 C516.42,946.7 522.36,942.6 527.9,942.1 L538.2,944.5 L538.2,1000.1" fill="none" stroke="#383838" stroke-width="1.3" stroke-linejoin="round"/>
<line x1="507.8" y1="1037.2" x2="507.8" y2="1083.2" stroke="#383838" stroke-width="1.3"/>
<line x1="528.6" y1="1037.2" x2="528.6" y2="1083.2" stroke="#383838" stroke-width="1.3"/>
<path d="M507.8,1082.6 Q507.8,1083.9 509,1083.9 L527.4,1083.9 Q528.6,1083.9 528.6,1082.6" fill="none" stroke="#383838" stroke-width="1.3" stroke-linejoin="round"/>
<rect x="491.7" y="1016.3" width="53.6" height="5" fill="#c4c4c4"/>
<line x1="492.1" y1="1018.7" x2="544.9" y2="1018.7" stroke="#383838" stroke-width="1.1"/>
<path d="M492.3,1016.6 Q490.9,1018.8 492.3,1021 M544.7,1016.6 Q546.1,1018.8 544.7,1021" fill="none" stroke="#383838" stroke-width="1.0" stroke-linejoin="round"/>
<line x1="477.5" y1="1016.3" x2="477.5" y2="1021.3" stroke="#383838" stroke-width="0.9"/>
<line x1="486.7" y1="1016.3" x2="486.7" y2="1021.3" stroke="#383838" stroke-width="0.9"/>
<line x1="550.3" y1="1016.3" x2="550.3" y2="1021.3" stroke="#383838" stroke-width="0.9"/>
<line x1="559.5" y1="1016.3" x2="559.5" y2="1021.3" stroke="#383838" stroke-width="0.9"/>
<rect x="465.5" y="1000.3" width="106" height="16" rx="1.6" fill="#fff" stroke="#383838" stroke-width="1.3"/>
<rect x="465.5" y="1021.3" width="106" height="16" rx="1.6" fill="#fff" stroke="#383838" stroke-width="1.3"/>
<path d="M472.5,1000.3 L472.5,994.4 Q472.5,992.2 474.7,991.9 Q475.5,991.6 477.5,992.2 Q482.1,991.2 486.7,992.2 Q488.7,991.6 489.5,991.9 Q491.7,992.2 491.7,994.4 L491.7,1000.3 Z" fill="#fff" stroke="#383838" stroke-width="1.3" stroke-linejoin="round"/>
<line x1="477.5" y1="992" x2="477.5" y2="1000" stroke="#383838" stroke-width="1.45"/>
<line x1="486.7" y1="992" x2="486.7" y2="1000" stroke="#383838" stroke-width="1.45"/>
<path d="M472.5,1037.3 L472.5,1043.2 Q472.5,1045.4 474.7,1045.7 Q475.5,1046 477.5,1045.4 Q482.1,1046.4 486.7,1045.4 Q488.7,1046 489.5,1045.7 Q491.7,1045.4 491.7,1043.2 L491.7,1037.3 Z" fill="#fff" stroke="#383838" stroke-width="1.3" stroke-linejoin="round"/>
<line x1="477.5" y1="1037.6" x2="477.5" y2="1045.6" stroke="#383838" stroke-width="1.45"/>
<line x1="486.7" y1="1037.6" x2="486.7" y2="1045.6" stroke="#383838" stroke-width="1.45"/>
<path d="M477,991.7 L477,990.5 Q477,989.5 478,989.5 L486.2,989.5 Q487.2,989.5 487.2,990.5 L487.2,991.7" fill="none" stroke="#383838" stroke-width="1.3" stroke-linejoin="round"/>
<path d="M545.3,1000.3 L545.3,994.4 Q545.3,992.2 547.5,991.9 Q548.3,991.6 550.3,992.2 Q554.9,991.2 559.5,992.2 Q561.5,991.6 562.3,991.9 Q564.5,992.2 564.5,994.4 L564.5,1000.3 Z" fill="#fff" stroke="#383838" stroke-width="1.3" stroke-linejoin="round"/>
<line x1="550.3" y1="992" x2="550.3" y2="1000" stroke="#383838" stroke-width="1.45"/>
<line x1="559.5" y1="992" x2="559.5" y2="1000" stroke="#383838" stroke-width="1.45"/>
<path d="M545.3,1037.3 L545.3,1043.2 Q545.3,1045.4 547.5,1045.7 Q548.3,1046 550.3,1045.4 Q554.9,1046.4 559.5,1045.4 Q561.5,1046 562.3,1045.7 Q564.5,1045.4 564.5,1043.2 L564.5,1037.3 Z" fill="#fff" stroke="#383838" stroke-width="1.3" stroke-linejoin="round"/>
<line x1="550.3" y1="1037.6" x2="550.3" y2="1045.6" stroke="#383838" stroke-width="1.45"/>
<line x1="559.5" y1="1037.6" x2="559.5" y2="1045.6" stroke="#383838" stroke-width="1.45"/>
<path d="M549.8,991.7 L549.8,990.5 Q549.8,989.5 550.8,989.5 L559,989.5 Q560,989.5 560,990.5 L560,991.7" fill="none" stroke="#383838" stroke-width="1.3" stroke-linejoin="round"/>
<line x1="482.1" y1="987" x2="482.1" y2="1051.6" stroke="#b57cb9" stroke-width="1.35"/>
<line x1="554.9" y1="987" x2="554.9" y2="1051.6" stroke="#b57cb9" stroke-width="1.35"/>
<line x1="518.5" y1="928.9" x2="518.5" y2="1095" stroke="#b57cb9" stroke-width="1.35"/>
<path d="M650.6,1000.4 L650.6,945.2 L660.74,948.3 C668.15,946.7 674,942.6 679.46,942.1 L689.6,944.5 L689.6,1000.4" fill="none" stroke="#383838" stroke-width="1.3" stroke-linejoin="round"/>
<line x1="659.9" y1="1037.4" x2="659.9" y2="1074.6" stroke="#383838" stroke-width="1.3"/>
<line x1="680.3" y1="1037.4" x2="680.3" y2="1074.6" stroke="#383838" stroke-width="1.3"/>
<rect x="643" y="1016.5" width="53.6" height="5" fill="#c4c4c4"/>
<line x1="643.4" y1="1018.9" x2="696.2" y2="1018.9" stroke="#383838" stroke-width="1.1"/>
<path d="M643.6,1016.8 Q642.2,1019 643.6,1021.2 M696,1016.8 Q697.4,1019 696,1021.2" fill="none" stroke="#383838" stroke-width="1.0" stroke-linejoin="round"/>
<line x1="628.8" y1="1016.5" x2="628.8" y2="1021.5" stroke="#383838" stroke-width="0.9"/>
<line x1="638" y1="1016.5" x2="638" y2="1021.5" stroke="#383838" stroke-width="0.9"/>
<line x1="701.6" y1="1016.5" x2="701.6" y2="1021.5" stroke="#383838" stroke-width="0.9"/>
<line x1="710.8" y1="1016.5" x2="710.8" y2="1021.5" stroke="#383838" stroke-width="0.9"/>
<rect x="616.8" y="1000.5" width="106" height="16" rx="1.6" fill="#fff" stroke="#383838" stroke-width="1.3"/>
<rect x="616.8" y="1021.5" width="106" height="16" rx="1.6" fill="#fff" stroke="#383838" stroke-width="1.3"/>
<path d="M623.8,1000.5 L623.8,994.6 Q623.8,992.4 626,992.1 Q626.8,991.8 628.8,992.4 Q633.4,991.4 638,992.4 Q640,991.8 640.8,992.1 Q643,992.4 643,994.6 L643,1000.5 Z" fill="#fff" stroke="#383838" stroke-width="1.3" stroke-linejoin="round"/>
<line x1="628.8" y1="992.2" x2="628.8" y2="1000.2" stroke="#383838" stroke-width="1.45"/>
<line x1="638" y1="992.2" x2="638" y2="1000.2" stroke="#383838" stroke-width="1.45"/>
<path d="M623.8,1037.5 L623.8,1043.4 Q623.8,1045.6 626,1045.9 Q626.8,1046.2 628.8,1045.6 Q633.4,1046.6 638,1045.6 Q640,1046.2 640.8,1045.9 Q643,1045.6 643,1043.4 L643,1037.5 Z" fill="#fff" stroke="#383838" stroke-width="1.3" stroke-linejoin="round"/>
<line x1="628.8" y1="1037.8" x2="628.8" y2="1045.8" stroke="#383838" stroke-width="1.45"/>
<line x1="638" y1="1037.8" x2="638" y2="1045.8" stroke="#383838" stroke-width="1.45"/>
<path d="M628.3,991.9 L628.3,990.7 Q628.3,989.7 629.3,989.7 L637.5,989.7 Q638.5,989.7 638.5,990.7 L638.5,991.9" fill="none" stroke="#383838" stroke-width="1.3" stroke-linejoin="round"/>
<path d="M696.6,1000.5 L696.6,994.6 Q696.6,992.4 698.8,992.1 Q699.6,991.8 701.6,992.4 Q706.2,991.4 710.8,992.4 Q712.8,991.8 713.6,992.1 Q715.8,992.4 715.8,994.6 L715.8,1000.5 Z" fill="#fff" stroke="#383838" stroke-width="1.3" stroke-linejoin="round"/>
<line x1="701.6" y1="992.2" x2="701.6" y2="1000.2" stroke="#383838" stroke-width="1.45"/>
<line x1="710.8" y1="992.2" x2="710.8" y2="1000.2" stroke="#383838" stroke-width="1.45"/>
<path d="M696.6,1037.5 L696.6,1043.4 Q696.6,1045.6 698.8,1045.9 Q699.6,1046.2 701.6,1045.6 Q706.2,1046.6 710.8,1045.6 Q712.8,1046.2 713.6,1045.9 Q715.8,1045.6 715.8,1043.4 L715.8,1037.5 Z" fill="#fff" stroke="#383838" stroke-width="1.3" stroke-linejoin="round"/>
<line x1="701.6" y1="1037.8" x2="701.6" y2="1045.8" stroke="#383838" stroke-width="1.45"/>
<line x1="710.8" y1="1037.8" x2="710.8" y2="1045.8" stroke="#383838" stroke-width="1.45"/>
<path d="M701.1,991.9 L701.1,990.7 Q701.1,989.7 702.1,989.7 L710.3,989.7 Q711.3,989.7 711.3,990.7 L711.3,991.9" fill="none" stroke="#383838" stroke-width="1.3" stroke-linejoin="round"/>
<line x1="633.4" y1="987.2" x2="633.4" y2="1051.8" stroke="#b57cb9" stroke-width="1.35"/>
<line x1="706.2" y1="987.2" x2="706.2" y2="1051.8" stroke="#b57cb9" stroke-width="1.35"/>
<rect x="616.7" y="1074.6" width="106" height="16.3" rx="1.6" fill="#fff" stroke="#383838" stroke-width="1.3"/>
<path d="M642.3,1090.9 L642.3,1092.7 Q642.3,1093.8 643.7,1093.8 L695.3,1093.8 Q696.7,1093.8 696.7,1092.7 L696.7,1090.9" fill="#e2e2e2" stroke="#383838" stroke-width="1.3" stroke-linejoin="round"/>
<line x1="633" y1="1066" x2="633" y2="1094.5" stroke="#b57cb9" stroke-width="1.35"/>
<line x1="706.4" y1="1066" x2="706.4" y2="1094.5" stroke="#b57cb9" stroke-width="1.35"/>
<line x1="669.7" y1="929.1" x2="669.7" y2="1112" stroke="#b57cb9" stroke-width="1.35"/>
<path d="M802.2,999.8 L802.2,944.6 L812.47,947.7 C819.98,946.1 825.9,942 831.43,941.5 L841.7,943.9 L841.7,999.8" fill="none" stroke="#383838" stroke-width="1.3" stroke-linejoin="round"/>
<line x1="815.8" y1="1037.3" x2="815.8" y2="1062.5" stroke="#383838" stroke-width="1.3"/>
<line x1="827.9" y1="1037.3" x2="827.9" y2="1062.5" stroke="#383838" stroke-width="1.3"/>
<rect x="795.2" y="1015.9" width="53.6" height="5" fill="#c4c4c4"/>
<line x1="795.6" y1="1018.3" x2="848.4" y2="1018.3" stroke="#383838" stroke-width="1.1"/>
<path d="M795.8,1016.2 Q794.4,1018.4 795.8,1020.6 M848.2,1016.2 Q849.6,1018.4 848.2,1020.6" fill="none" stroke="#383838" stroke-width="1.0" stroke-linejoin="round"/>
<line x1="781" y1="1015.9" x2="781" y2="1020.9" stroke="#383838" stroke-width="0.9"/>
<line x1="790.2" y1="1015.9" x2="790.2" y2="1020.9" stroke="#383838" stroke-width="0.9"/>
<line x1="853.8" y1="1015.9" x2="853.8" y2="1020.9" stroke="#383838" stroke-width="0.9"/>
<line x1="863" y1="1015.9" x2="863" y2="1020.9" stroke="#383838" stroke-width="0.9"/>
<rect x="769" y="999.9" width="106" height="16" rx="1.6" fill="#fff" stroke="#383838" stroke-width="1.3"/>
<rect x="769" y="1020.9" width="106" height="16" rx="1.6" fill="#fff" stroke="#383838" stroke-width="1.3"/>
<path d="M776,999.9 L776,994 Q776,991.8 778.2,991.5 Q779,991.2 781,991.8 Q785.6,990.8 790.2,991.8 Q792.2,991.2 793,991.5 Q795.2,991.8 795.2,994 L795.2,999.9 Z" fill="#fff" stroke="#383838" stroke-width="1.3" stroke-linejoin="round"/>
<line x1="781" y1="991.6" x2="781" y2="999.6" stroke="#383838" stroke-width="1.45"/>
<line x1="790.2" y1="991.6" x2="790.2" y2="999.6" stroke="#383838" stroke-width="1.45"/>
<path d="M776,1036.9 L776,1042.8 Q776,1045 778.2,1045.3 Q779,1045.6 781,1045 Q785.6,1046 790.2,1045 Q792.2,1045.6 793,1045.3 Q795.2,1045 795.2,1042.8 L795.2,1036.9 Z" fill="#fff" stroke="#383838" stroke-width="1.3" stroke-linejoin="round"/>
<line x1="781" y1="1037.2" x2="781" y2="1045.2" stroke="#383838" stroke-width="1.45"/>
<line x1="790.2" y1="1037.2" x2="790.2" y2="1045.2" stroke="#383838" stroke-width="1.45"/>
<path d="M780.5,991.3 L780.5,990.1 Q780.5,989.1 781.5,989.1 L789.7,989.1 Q790.7,989.1 790.7,990.1 L790.7,991.3" fill="none" stroke="#383838" stroke-width="1.3" stroke-linejoin="round"/>
<path d="M848.8,999.9 L848.8,994 Q848.8,991.8 851,991.5 Q851.8,991.2 853.8,991.8 Q858.4,990.8 863,991.8 Q865,991.2 865.8,991.5 Q868,991.8 868,994 L868,999.9 Z" fill="#fff" stroke="#383838" stroke-width="1.3" stroke-linejoin="round"/>
<line x1="853.8" y1="991.6" x2="853.8" y2="999.6" stroke="#383838" stroke-width="1.45"/>
<line x1="863" y1="991.6" x2="863" y2="999.6" stroke="#383838" stroke-width="1.45"/>
<path d="M848.8,1036.9 L848.8,1042.8 Q848.8,1045 851,1045.3 Q851.8,1045.6 853.8,1045 Q858.4,1046 863,1045 Q865,1045.6 865.8,1045.3 Q868,1045 868,1042.8 L868,1036.9 Z" fill="#fff" stroke="#383838" stroke-width="1.3" stroke-linejoin="round"/>
<line x1="853.8" y1="1037.2" x2="853.8" y2="1045.2" stroke="#383838" stroke-width="1.45"/>
<line x1="863" y1="1037.2" x2="863" y2="1045.2" stroke="#383838" stroke-width="1.45"/>
<path d="M853.3,991.3 L853.3,990.1 Q853.3,989.1 854.3,989.1 L862.5,989.1 Q863.5,989.1 863.5,990.1 L863.5,991.3" fill="none" stroke="#383838" stroke-width="1.3" stroke-linejoin="round"/>
<line x1="785.6" y1="986.6" x2="785.6" y2="1051.2" stroke="#b57cb9" stroke-width="1.35"/>
<line x1="858.4" y1="986.6" x2="858.4" y2="1051.2" stroke="#b57cb9" stroke-width="1.35"/>
<rect x="816.6" y="1112" width="10.8" height="19.2" rx="1.5" fill="#fff" stroke="#383838" stroke-width="1.3"/>
<line x1="817" y1="1130.8" x2="827" y2="1130.8" stroke="#383838" stroke-width="1.8"/>
<rect x="811.4" y="1100" width="21.4" height="12" rx="2.2" fill="#fff" stroke="#383838" stroke-width="1.3"/>
<line x1="816.6" y1="1111.7" x2="816.6" y2="1100.3" stroke="#383838" stroke-width="1.3"/>
<line x1="827.8" y1="1111.7" x2="827.8" y2="1100.3" stroke="#383838" stroke-width="1.3"/>
<rect x="814.6" y="1097.2" width="14.8" height="2.8" rx="0.5" fill="#fff" stroke="#383838" stroke-width="1.3"/>
<rect x="812" y="1077.6" width="19.4" height="19.6" rx="1.5" fill="#fff" stroke="#383838" stroke-width="1.3"/>
<rect x="811.4" y="1064.4" width="21.4" height="11.2" rx="2.2" fill="#fff" stroke="#383838" stroke-width="1.3"/>
<line x1="816.6" y1="1075.3" x2="816.6" y2="1064.7" stroke="#383838" stroke-width="1.3"/>
<line x1="827.8" y1="1075.3" x2="827.8" y2="1064.7" stroke="#383838" stroke-width="1.3"/>
<rect x="814.6" y="1075.6" width="14.8" height="2" rx="0.5" fill="#fff" stroke="#383838" stroke-width="1.3"/>
<rect x="813.6" y="1062.8" width="16.8" height="1.6" rx="0.6" fill="#fff" stroke="#383838" stroke-width="1.3"/>
<rect x="831.6" y="1078.8" width="8.2" height="16" rx="1" fill="#fff" stroke="#383838" stroke-width="1.3"/>
<line x1="831.8" y1="1082.8" x2="839.8" y2="1082.8" stroke="#383838" stroke-width="1.3"/>
<line x1="831.8" y1="1090.8" x2="839.8" y2="1090.8" stroke="#383838" stroke-width="1.3"/>
<rect x="839.8" y="1080" width="9.2" height="14" rx="0.5" fill="#fff" stroke="#383838" stroke-width="1.3"/>
<rect x="849" y="1078.8" width="3.8" height="16" rx="1.8" fill="#fff" stroke="#383838" stroke-width="1.3"/>
<rect x="852.8" y="1080.7" width="1.6" height="12.2" rx="0.5" fill="#fff" stroke="#383838" stroke-width="1.3"/>
<rect x="854.2" y="1078.8" width="5.2" height="16" rx="2.2" fill="#fff" stroke="#383838" stroke-width="1.3"/>
<line x1="856.8" y1="1079.2" x2="856.8" y2="1094.6" stroke="#383838" stroke-width="0.9"/>
<rect x="859.4" y="1084" width="4.8" height="6" rx="0" fill="#fff" stroke="#383838" stroke-width="1.3"/>
<rect x="864.2" y="1066.8" width="11.6" height="40.8" rx="1.5" fill="#fff" stroke="#383838" stroke-width="1.3"/>
<line x1="864.6" y1="1069.2" x2="875.4" y2="1069.2" stroke="#383838" stroke-width="1.3"/>
<line x1="864.6" y1="1104.8" x2="875.4" y2="1104.8" stroke="#383838" stroke-width="1.3"/>
<line x1="864.6" y1="1067.8" x2="875.4" y2="1067.8" stroke="#383838" stroke-width="1.6"/>
<line x1="864.6" y1="1106.4" x2="875.4" y2="1106.4" stroke="#383838" stroke-width="1.6"/>
<line x1="806.6" y1="1087.2" x2="878.2" y2="1087.2" stroke="#b57cb9" stroke-width="1.35"/>
<line x1="869.8" y1="1064.4" x2="869.8" y2="1110" stroke="#b57cb9" stroke-width="1.35"/>
<line x1="822" y1="928.9" x2="822" y2="1127" stroke="#b57cb9" stroke-width="1.35"/>
</svg>
</body></html>
